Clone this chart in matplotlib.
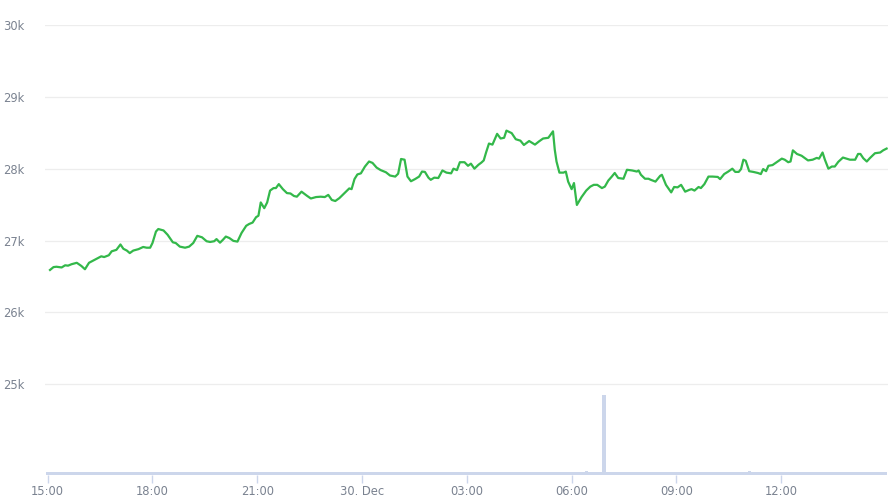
import numpy as np
import matplotlib
matplotlib.use("Agg")
import matplotlib.pyplot as plt

# minutes after 15:00 (29 Dec)
times = [4, 10, 15, 24, 30, 35, 41, 50, 58, 64, 71, 78, 84, 92, 97, 105, 110, 118, 125, 130,
         136, 141, 147, 156, 164, 170, 176, 180, 186, 190, 199, 206, 215, 220, 227, 236, 243,
         250, 257, 265, 273, 279, 286, 290, 296, 301, 306, 312, 319, 326, 333, 341, 346, 352,
         358, 362, 366, 372, 377, 382, 388, 392, 397, 404, 411, 417, 423, 428, 436, 445, 452,
         461, 469, 476, 482, 488, 494, 501, 511, 518, 522, 527, 532, 538, 545, 552, 558, 565,
         572, 581, 588, 597, 602, 607, 613, 618, 624, 631, 638, 643, 648, 654, 658, 664, 671,
         678, 685, 693, 697, 703, 708, 716, 722, 727, 733, 740, 745, 749, 753, 758, 764, 772,
         778, 784, 788, 797, 804, 812, 818, 827, 837, 844, 851, 860, 868, 871, 874, 879, 886,
         890, 894, 900, 904, 909, 917, 925, 932, 938, 944, 952, 957, 963, 969, 974, 980, 989,
         995, 1004, 1012, 1015, 1019, 1026, 1032, 1036, 1044, 1052, 1055, 1062, 1071, 1076,
         1082, 1088, 1095, 1102, 1106, 1111, 1118, 1122, 1128, 1135, 1142, 1151, 1155, 1162,
         1169, 1176, 1181, 1187, 1191, 1195, 1199, 1205, 1212, 1220, 1225, 1229, 1234, 1238,
         1245, 1252, 1261, 1266, 1272, 1276, 1280, 1287, 1295, 1301, 1306, 1314, 1321, 1325,
         1331, 1335, 1341, 1347, 1352, 1358, 1366, 1372, 1378, 1387, 1392, 1396, 1401, 1407,
         1412, 1421, 1430, 1435, 1441]

prices = [26590, 26630, 26635, 26625, 26655, 26650, 26670, 26690, 26645, 26600, 26690, 26720,
          26745, 26780, 26770, 26795, 26850, 26870, 26945, 26885, 26860, 26825, 26860, 26880,
          26910, 26900, 26900, 26965, 27125, 27160, 27140, 27080, 26975, 26965, 26915, 26900,
          26915, 26965, 27065, 27045, 26990, 26980, 26990, 27020, 26970, 27010, 27055, 27035,
          26995, 26985, 27105, 27205, 27230, 27250, 27325, 27345, 27530, 27450, 27530, 27695,
          27730, 27730, 27785, 27715, 27660, 27655, 27620, 27610, 27680, 27625, 27585, 27605,
          27610, 27605, 27635, 27565, 27550, 27590, 27670, 27725, 27715, 27855, 27920, 27935,
          28030, 28100, 28080, 28015, 27980, 27950, 27905, 27890, 27930, 28135, 28125, 27890,
          27825, 27855, 27890, 27960, 27955, 27875, 27845, 27875, 27870, 27975, 27945, 27935,
          28000, 27980, 28090, 28090, 28040, 28070, 28000, 28055, 28085, 28115, 28225, 28350,
          28335, 28485, 28420, 28430, 28530, 28495, 28410, 28390, 28330, 28385, 28335, 28380,
          28420, 28430, 28520, 28265, 28100, 27945, 27945, 27960, 27820, 27715, 27800, 27495,
          27605, 27695, 27750, 27775, 27775, 27730, 27750, 27835, 27890, 27940, 27870, 27860,
          27985, 27975, 27960, 27975, 27915, 27860, 27860, 27845, 27820, 27900, 27915, 27775,
          27670, 27745, 27740, 27775, 27680, 27705, 27715, 27695, 27745, 27730, 27785, 27890,
          27890, 27885, 27855, 27925, 27960, 28000, 27955, 27955, 27995, 28125, 28110, 27965,
          27955, 27940, 27925, 27995, 27965, 28040, 28050, 28090, 28140, 28125, 28090, 28100,
          28255, 28205, 28180, 28145, 28115, 28125, 28150, 28140, 28225, 28125, 28000, 28030,
          28030, 28095, 28155, 28140, 28125, 28125, 28205, 28205, 28145, 28100, 28145, 28215,
          28225, 28255, 28280]

# volume, one bar per 5 minutes from 15:00 (rows = one hour each)
volumes = [
    1, 1, 1, 1, 1, 1, 1, 1, 1, 1, 1, 1,
    1, 1, 1, 1, 1, 1, 1, 1, 1, 1, 1, 1,
    1, 1, 1, 1, 1, 1, 1, 1, 1, 1, 1, 1,
    1, 1, 1, 1, 1, 1, 1, 1, 1, 1, 1, 1,
    1, 1, 1, 1, 1, 1, 1, 1, 1, 1, 1, 1,
    1, 1, 1, 1, 1, 1, 1, 1, 1, 1, 1, 1,
    1, 1, 1, 1, 1, 1, 1, 1, 1, 1, 1, 1,
    1, 1, 1, 1, 1, 1, 1, 1, 1, 1, 1, 1,
    1, 1, 1, 1, 1, 1, 1, 1, 1, 1, 1, 1,
    1, 1, 1, 1, 1, 1, 1, 1, 1, 1, 1, 1,
    1, 1, 1, 1, 1, 1, 1, 1, 1, 1, 1, 1,
    1, 1, 1, 1, 1, 1, 1, 1, 1, 1, 1, 1,
    1, 1, 1, 1, 1, 1, 1, 1, 1, 1, 1, 1,
    1, 1, 1, 1, 1, 1, 1, 1, 1, 1, 1, 1,
    1, 1, 1, 1, 1, 1, 1, 1, 1, 1, 1, 1,
    1, 1, 1, 1, 1, 1.5, 1, 1, 1, 1, 1, 26.7,
    1, 1, 1, 1, 1, 1, 1, 1, 1, 1, 1, 1,
    1, 1, 1, 1, 1, 1, 1, 1, 1, 1, 1, 1,
    1, 1, 1, 1, 1, 1, 1, 1, 1, 1, 1, 1,
    1, 1, 1, 1, 1, 1, 1, 1, 1, 1, 1, 1,
    1, 1.5, 1, 1, 1, 1, 1, 1, 1, 1, 1, 1,
    1, 1, 1, 1, 1, 1, 1, 1, 1, 1, 1, 1,
    1, 1, 1, 1, 1, 1, 1, 1, 1, 1, 1, 1,
    1, 1, 1, 1, 1, 1, 1, 1, 1, 1, 1, 1,
    1,
]
vol_step = 5  # minutes

tick_minutes = [0, 180, 360, 540, 720, 900, 1080, 1260]
tick_labels = ["15:00", "18:00", "21:00", "30. Dec", "03:00", "06:00", "09:00", "12:00"]
ytick_values = [25000, 26000, 27000, 28000, 29000, 30000]
ytick_labels = ["25k", "26k", "27k", "28k", "29k", "30k"]

W, H = 893, 503
fig = plt.figure(figsize=(W / 100, H / 100), dpi=100)
left, right, top, bottom = 45, 888, 25, 475
rect = [left / W, (H - bottom) / H, (right - left) / W, (bottom - top) / H]

label_color = "#7a8290"
grid_color = "#ededed"
axis_color = "#ccd6eb"

ax_vol = fig.add_axes(rect)
ax = fig.add_axes(rect, sharex=ax_vol)
ax.patch.set_visible(False)

vol_x = np.arange(len(volumes)) * vol_step
widths = [7 if v > 5 else vol_step for v in volumes]
ax_vol.bar(vol_x, volumes, width=widths, color=axis_color, linewidth=0, align="center")
ax_vol.set_ylim(0, 150)
ax_vol.set_yticks([])
for s in ax_vol.spines.values():
    s.set_visible(False)

ax.plot(times, prices, color="#33b84a", linewidth=1.6, solid_joinstyle="round", zorder=3)
ax.set_ylim(23736, 30000)
ax.set_xlim(-4.6, 1443.4)
ax.set_yticks(ytick_values)
ax.set_yticklabels(ytick_labels)
ax.grid(axis="y", color=grid_color, linewidth=0.9)
ax.set_axisbelow(True)
for s in ax.spines.values():
    s.set_visible(False)
ax.tick_params(axis="y", length=0, pad=15, labelsize=8.3, labelcolor=label_color)

ax_vol.set_xticks(tick_minutes)
ax_vol.set_xticklabels(tick_labels)
ax_vol.tick_params(axis="x", length=6, width=1, color=axis_color, pad=1.5,
                   labelsize=8.3, labelcolor=label_color)
ax.tick_params(axis="x", which="both", length=0, labelbottom=False)

fig.savefig("out.png", dpi=100)
